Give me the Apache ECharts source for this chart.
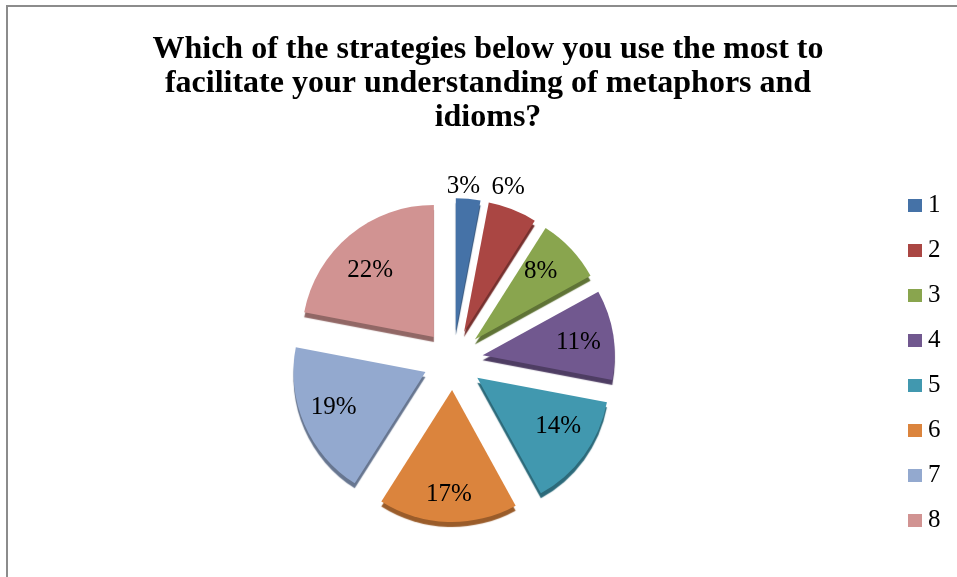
<!DOCTYPE html>
<html>
<head>
<meta charset="utf-8">
<script src="https://cdn.jsdelivr.net/npm/echarts@6/dist/echarts.min.js"></script>
<style>
  html, body { margin: 0; padding: 0; background: #ffffff; }
  #chart { width: 957px; height: 577px; }
</style>
</head>
<body>
<div id="chart"></div>
<script>
// Survey answers: share of respondents per strategy (percent)
const categories = ['1', '2', '3', '4', '5', '6', '7', '8'];
const shares = [3, 6, 8, 11, 14, 17, 19, 22];
const titleText = 'Which of the strategies below you use the most to\nfacilitate your understanding of metaphors and\nidioms?';

// Slice colours and the darker tone used for the slice thickness
const faceColors = ['#4572A7', '#AA4643', '#89A54E', '#71588F', '#4198AF', '#DB843D', '#93A9CF', '#D19392'];
const edgeColors = ['#2f5078', '#76302e', '#5f7336', '#4e3d63', '#2c6a7a', '#9a5c2a', '#677690', '#916765'];
// Small per-label nudges: extra right padding (moves text left) and vertical shift in px
const labelPadRight = [12, 18, 14, 6, 0, 0, 0, 0];
const labelShiftY = [0, -11, 0, 3, -10, 5, -4, 11];

const serif = '"Liberation Serif", "Times New Roman", serif';
const center = [453, 360];
const outerR = 132;
const explode = 30;

// Visible slices (no labels)
const sliceData = categories.map((name, i) => ({
  name: name,
  value: shares[i],
  selected: true,
  itemStyle: {
    color: faceColors[i],
    shadowBlur: 1,
    shadowOffsetY: 5,
    shadowColor: edgeColors[i]
  },
  select: { itemStyle: { color: faceColors[i], borderWidth: 0, shadowBlur: 1, shadowOffsetY: 5, shadowColor: edgeColors[i] } }
}));

// Percentage text, with an empty spacer line above or below to move it vertically
function percentText(params) {
  const shift = labelShiftY[params.dataIndex];
  const main = '{v|' + params.value + '%}';
  if (shift > 0) return '{s| }\n' + main;
  if (shift < 0) return main + '\n{s| }';
  return main;
}

function labelFor(i, visible) {
  const shift = Math.abs(labelShiftY[i]);
  return {
    show: visible,
    padding: [0, labelPadRight[i], 0, 0],
    rich: {
      v: { fontFamily: serif, fontSize: 25, lineHeight: 25, color: '#000000' },
      s: { fontSize: 1, lineHeight: Math.max(1, 2 * shift), height: Math.max(1, 2 * shift) }
    }
  };
}

// Transparent ring carrying the inside percentage labels
const innerLabelData = categories.map((name, i) => ({
  name: name,
  value: shares[i],
  selected: true,
  label: labelFor(i, i >= 2)
}));

// Transparent ring beyond the pie carrying the labels of the two thin slices
const outerLabelData = categories.map((name, i) => ({
  name: name,
  value: shares[i],
  selected: true,
  label: labelFor(i, i < 2)
}));

const overlayBase = {
  type: 'pie',
  center: center,
  startAngle: 90,
  clockwise: true,
  selectedMode: 'multiple',
  selectedOffset: explode,
  silent: true,
  legendHoverLink: false,
  itemStyle: { color: 'rgba(0,0,0,0)', borderWidth: 0 },
  select: { itemStyle: { color: 'rgba(0,0,0,0)', borderWidth: 0 } },
  emphasis: { disabled: true },
  labelLine: { show: false },
  label: {
    position: 'inside',
    formatter: percentText,
    fontFamily: serif,
    fontSize: 25,
    color: '#000000'
  },
  animation: false
};

const chart = echarts.init(document.getElementById('chart'), null, { renderer: 'canvas' });
chart.setOption({
  backgroundColor: '#ffffff',
  animation: false,
  color: faceColors,
  title: {
    text: titleText,
    left: 483,
    top: 28,
    textAlign: 'center',
    textStyle: {
      fontFamily: serif,
      fontWeight: 'bold',
      fontSize: 32,
      lineHeight: 34,
      color: '#000000'
    }
  },
  legend: {
    orient: 'vertical',
    left: 903,
    top: 188,
    itemWidth: 14,
    itemHeight: 13,
    itemGap: 20,
    icon: 'rect',
    selectedMode: false,
    data: categories,
    textStyle: {
      fontFamily: serif,
      fontSize: 25,
      lineHeight: 25,
      color: '#000000',
      padding: [0, 0, 0, 1]
    }
  },
  graphic: [{
    type: 'rect',
    silent: true,
    shape: { x: 7, y: 6, width: 1000, height: 1000 },
    style: { fill: 'none', stroke: '#8c8c8c', lineWidth: 2 }
  }],
  series: [
    {
      type: 'pie',
      name: 'slices',
      center: center,
      radius: [0, outerR],
      startAngle: 90,
      clockwise: true,
      selectedMode: 'multiple',
      selectedOffset: explode,
      silent: true,
      emphasis: { disabled: true },
      label: { show: false },
      labelLine: { show: false },
      data: sliceData,
      animation: false
    },
    Object.assign({}, overlayBase, { name: 'inner labels', radius: [62, outerR], data: innerLabelData }),
    Object.assign({}, overlayBase, { name: 'outer labels', radius: [126, 156], data: outerLabelData })
  ]
});
</script>
</body>
</html>
